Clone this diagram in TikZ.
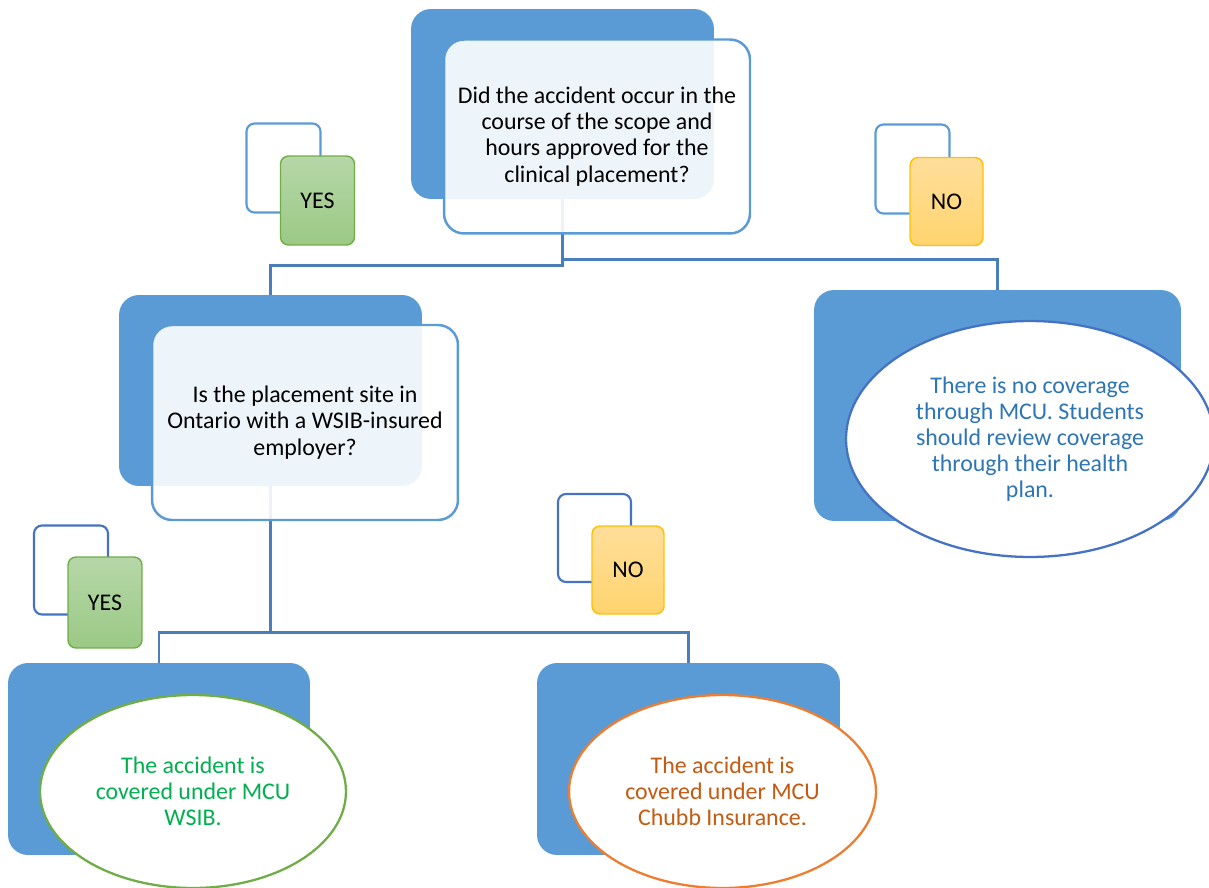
\documentclass[tikz,border=0pt]{standalone}
\usepackage{fontspec}
\setmainfont{Carlito}
\usepackage{xcolor}
\usetikzlibrary{shapes.geometric,backgrounds}

\definecolor{boxblue}{HTML}{5B9BD5}
\definecolor{darkblue}{HTML}{4472C4}
\definecolor{linkblue}{HTML}{4A7EBB}
\definecolor{textblue}{HTML}{2E75B6}
\definecolor{yesedge}{HTML}{70AD47}
\definecolor{yestop}{HTML}{B6D7A8}
\definecolor{yesbottom}{HTML}{9BC985}
\definecolor{noedge}{HTML}{FFC000}
\definecolor{notop}{HTML}{FFDE9A}
\definecolor{nobottom}{HTML}{FFD46E}
\definecolor{wsibgreen}{HTML}{00B050}
\definecolor{chubbedge}{HTML}{ED7D31}
\definecolor{chubbtext}{HTML}{C55A11}

\begin{document}
\begin{tikzpicture}[
    x=0.02cm, y=-0.02cm,
    font=\fontsize{13.6}{14.9}\selectfont,
    backbox/.style={rectangle, rounded corners=0.4cm, fill=boxblue, minimum width=6.06cm, minimum height=3.8cm},
    frontbox/.style={rectangle, rounded corners=0.4cm, draw=boxblue, line width=1.4pt, fill=white, fill opacity=0.9, text opacity=1, align=center, minimum width=6.12cm, minimum height=3.88cm},
    tagframe/.style={rectangle, rounded corners=0.16cm, draw=boxblue, line width=1.2pt, minimum width=1.48cm, minimum height=1.78cm},
    yesbox/.style={rectangle, rounded corners=0.16cm, draw=yesedge, line width=0.8pt, top color=yestop, bottom color=yesbottom, minimum width=1.48cm, minimum height=1.78cm},
    nobox/.style={rectangle, rounded corners=0.16cm, draw=noedge, line width=0.8pt, top color=notop, bottom color=nobottom, minimum width=1.46cm, minimum height=1.76cm},
    leaf/.style={ellipse, fill=white, line width=1.3pt, align=center, inner sep=0pt, minimum width=6.12cm, minimum height=3.86cm},
    link/.style={draw=linkblue, line width=1.6pt}
]
    \useasboundingbox (0,0) rectangle (1209,888);

    % First question
    \node[backbox] (q1back) at (562.5,104) {};
    \node[frontbox] (q1) at (597,136.5) {Did the accident occur in the\\course of the scope and\\hours approved for the\\clinical placement?};

    % Answers to the first question
    \node[tagframe] (yes1frame) at (283.5,168) {};
    \node[yesbox] (yes1) at (317.5,200.5) {YES};
    \node[tagframe] (no1frame) at (912.5,169) {};
    \node[nobox] (no1) at (946.5,201.5) {NO};

    % Second question
    \node[backbox, minimum height=3.82cm] (q2back) at (270.5,390.5) {};
    \node[frontbox, minimum height=3.9cm] (q2) at (305,422.5) {Is the placement site in\\Ontario with a WSIB-insured\\employer?};

    % No coverage
    \node[backbox, minimum width=7.34cm, minimum height=4.62cm] (nocovback) at (997.5,405.5) {};
    \node[leaf, draw=darkblue, text=textblue, minimum width=7.36cm, minimum height=4.72cm] (nocov) at (1030,439) {There is no coverage\\through MCU. Students\\should review coverage\\through their health\\plan.};

    % Answers to the second question
    \node[tagframe, draw=darkblue] (yes2frame) at (71,570) {};
    \node[yesbox, minimum height=1.82cm] (yes2) at (105,602.5) {YES};
    \node[tagframe, draw=darkblue, minimum width=1.46cm, minimum height=1.76cm] (no2frame) at (594.5,538) {};
    \node[nobox, minimum width=1.44cm] (no2) at (628,570) {NO};

    % Outcomes
    \node[backbox, minimum width=6.04cm, minimum height=3.84cm] (wsibback) at (159,759) {};
    \node[leaf, draw=yesedge, text=wsibgreen] (wsib) at (193,791.5) {The accident is\\covered under MCU\\WSIB.};
    \node[backbox, minimum height=3.84cm] (chubbback) at (688.5,759) {};
    \node[leaf, draw=chubbedge, text=chubbtext, minimum width=6.14cm] (chubb) at (722.5,791.5) {The accident is\\covered under MCU\\Chubb Insurance.};

    % Connectors
    \begin{scope}[on background layer]
        \draw[link] (q1back.south) -- ++(0,66) -| (q2back.north);
        \draw[link] (q1back.south) -- ++(0,60) -| (nocovback.north);
        \draw[link] (q2back.south) -- ++(0,146) -| (wsibback.north);
        \draw[link] (q2back.south) -- ++(0,146) -| (chubbback.north);
    \end{scope}
\end{tikzpicture}
\end{document}
